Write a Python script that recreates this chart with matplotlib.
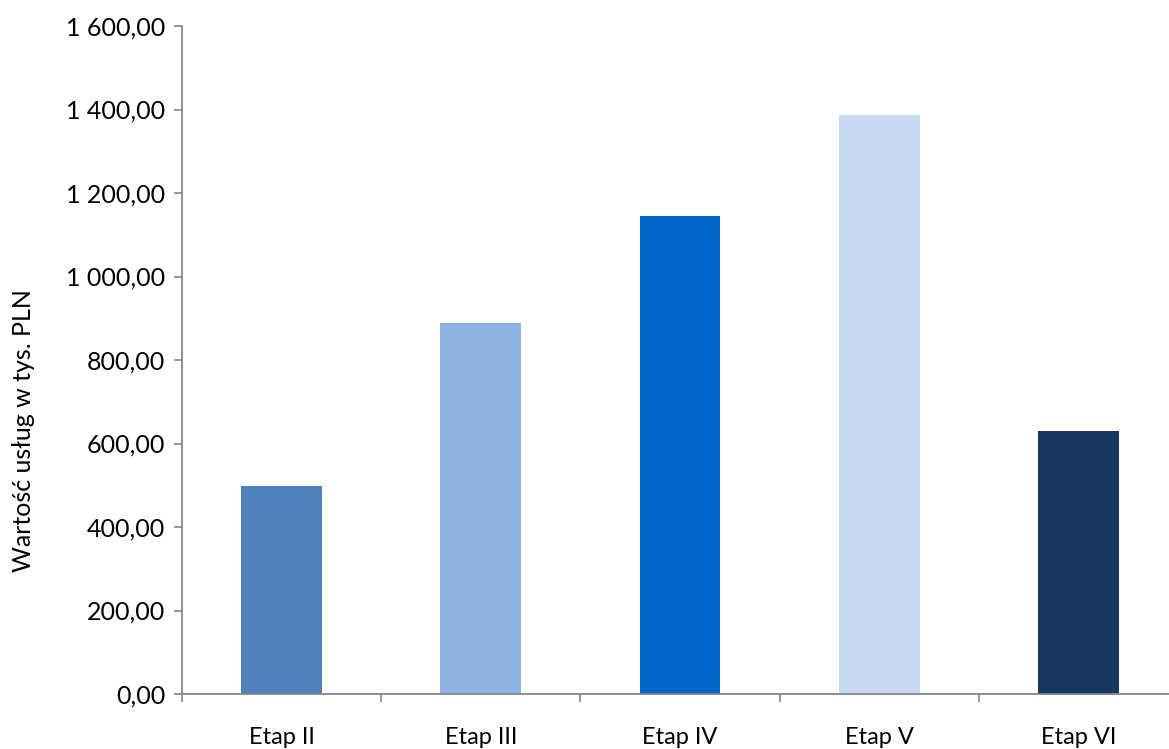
import numpy as np
import matplotlib.pyplot as plt
from matplotlib.ticker import FuncFormatter

# data
stages = ['Etap II', 'Etap III', 'Etap IV', 'Etap V', 'Etap VI']
values = [499, 889, 1145, 1387, 630]
colors = ['#4F81BD', '#8EB4E3', '#0066CC', '#C6D9F1', '#17375E']

plt.rcParams['font.family'] = ['Lato', 'DejaVu Sans']

fig = plt.figure(figsize=(11.69, 7.49), dpi=100)
ax = fig.add_axes([182 / 1169, 1 - 694 / 749, 996 / 1169, 668 / 749])

x = np.arange(len(stages))
ax.bar(x, values, width=0.405, color=colors)

ax.set_xlim(-0.5, len(stages) - 0.5)
ax.set_ylim(0, 1600)
ax.set_yticks(np.arange(0, 1601, 200))


def pl_fmt(v, pos):
    s = f'{v:,.2f}'
    return s.replace(',', ' ').replace('.', ',')


ax.yaxis.set_major_formatter(FuncFormatter(pl_fmt))

# category boundaries get the tick marks, labels sit at the centres
ax.set_xticks(np.arange(-0.5, len(stages), 1.0))
ax.set_xticklabels([])
ax.set_xticks(x, minor=True)
ax.set_xticklabels(stages, minor=True)
ax.tick_params(axis='x', which='minor', length=0, pad=24, labelsize=17)
ax.tick_params(axis='x', which='major', length=6, width=1.2, color='#868686')
ax.tick_params(axis='y', length=6, width=1.2, color='#868686', labelsize=18, pad=6)

for side in ['top', 'right']:
    ax.spines[side].set_visible(False)
for side in ['left', 'bottom']:
    ax.spines[side].set_color('#868686')
    ax.spines[side].set_linewidth(1.3)

ax.set_ylabel('Wartość usług w tys. PLN', fontsize=18)
ax.yaxis.set_label_coords(-147 / 996, 0.394)

plt.savefig('out.png', dpi=100)
